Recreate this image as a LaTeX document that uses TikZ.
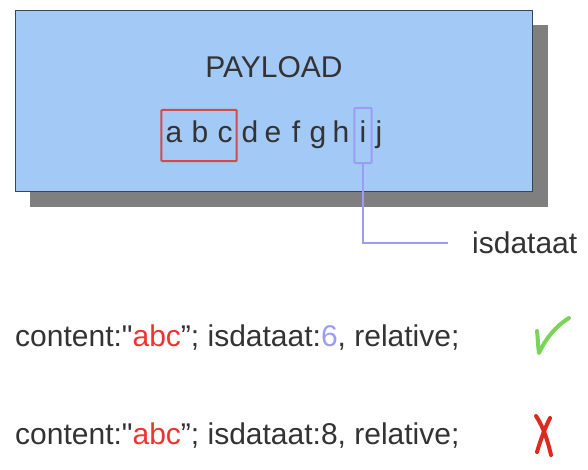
\documentclass[tikz,border=0pt]{standalone}
\usepackage{fontspec}
\setmainfont{Liberation Sans}[Ligatures=TeXOff]
\usetikzlibrary{positioning, fit}

\definecolor{payloadblue}{HTML}{A3C9F6}
\definecolor{boxedge}{HTML}{3C4450}
\definecolor{shadowgray}{HTML}{7F7F7F}
\definecolor{textgray}{HTML}{333333}
\definecolor{markred}{HTML}{D44A4A}
\definecolor{abcred}{HTML}{EE3333}
\definecolor{markblue}{HTML}{9C9CF6}
\definecolor{okgreen}{HTML}{7BD35A}
\definecolor{badred}{HTML}{DC2A1E}

\begin{document}
\begin{tikzpicture}[x=1pt,y=-1pt,
    txt/.style={font=\fontsize{30}{36}\selectfont, text=textgray, inner sep=0pt},
    letter/.style={txt, anchor=base, text height=24pt, text depth=9pt}]

\useasboundingbox (0,0) rectangle (588,470);

% Shadow and payload box
\fill[shadowgray] (30,25) rectangle (548,207);
\node[draw=boxedge, line width=1pt, fill=payloadblue, anchor=north west,
      minimum width=517pt, minimum height=181pt, inner sep=0pt] (payload) at (15,10) {};

\node[txt] (title) at (274,67) {PAYLOAD};

% Bytes of the payload
\foreach \l/\x in {a/174,b/200,c/225,d/250,e/273,f/296,g/318,h/341,i/363,j/379}
{
    \node[letter] (l\l) at (\x,143) {\l};
}

% Marks
\node[draw=markred, line width=2pt, rounded corners=1pt, inner xsep=4pt, inner ysep=9pt,
      fit=(la)(lc)] (abcbox) {};
\node[draw=markblue, line width=2pt, rounded corners=1pt, inner xsep=5pt, inner ysep=11pt,
      fit=(li)] (ibox) {};

% Labels
\node[txt, anchor=west] (isdata) at (472,243) {isdataat};
\draw[markblue, line width=2pt] (ibox.south) |- ([xshift=-24pt]isdata.west);

\node[txt, anchor=west] (good) at (15,338)
    {content:"\textcolor{abcred}{abc}”; isdataat:\textcolor{markblue}{6}, relative;};
\node[txt, anchor=west] (bad) at (15,436)
    {content:"\textcolor{abcred}{abc}”; isdataat:8, relative;};

% Check and cross
\draw[okgreen, line width=4pt, line cap=round, line join=round]
    (537,331) .. controls (538,340) and (538,347) .. (539,353)
    .. controls (546,338) and (556,326) .. (569,318);
\draw[badred, line width=4pt, line cap=round]
    (536,416) .. controls (544,428) and (548,442) .. (551,455);
\draw[badred, line width=4pt, line cap=round]
    (550,418) .. controls (544,430) and (540,442) .. (537,452);

\end{tikzpicture}
\end{document}
